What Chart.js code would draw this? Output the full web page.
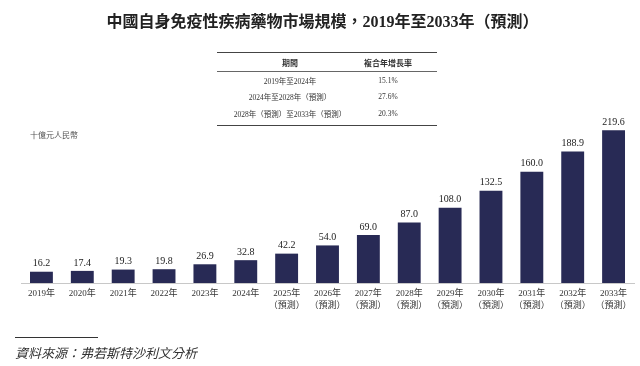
<!DOCTYPE html>
<html>
<head>
<meta charset="utf-8">
<script src="https://cdn.jsdelivr.net/npm/chart.js@4/dist/chart.umd.min.js"></script>
<style>
  body { margin: 0; width: 640px; height: 366px; background: #fff; position: relative; overflow: hidden; font-family: "Liberation Serif", "Noto Sans CJK TC", serif; color: #222; }
  #wrap { position: absolute; left: 0; top: 0; width: 640px; height: 366px; }
  .title { position: absolute; top: 8px; left: 0; width: 645px; text-align: center; font-size: 16px; font-weight: bold; color: #222; }
  .unit { position: absolute; left: 30px; top: 129px; font-size: 8px; color: #555; }
  table { position: absolute; left: 217px; top: 52px; width: 220px; border-collapse: collapse; font-size: 7.5px; color: #333; border-top: 1.5px solid #444; border-bottom: 1.5px solid #444; }
  th { font-weight: bold; font-size: 8px; height: 18px; border-bottom: 1.2px solid #666; padding: 0; }
  td { text-align: center; height: 16.5px; padding: 0; }
  td.v, th.v { padding-right: 24px; }
  tbody tr:last-child td { padding-bottom: 3px; }
  .src-line { position: absolute; left: 15px; top: 337px; width: 83px; border-top: 1px solid #333; }
  .src { position: absolute; left: 15px; top: 343px; font-size: 13px; font-style: italic; color: #333; }
</style>
</head>
<body>
<div id="wrap"><canvas id="chart" width="640" height="366"></canvas></div>
<div class="title">中國自身免疫性疾病藥物市場規模，2019年至2033年（預測）</div>
<table id="cagr"><thead><tr><th style="width:146px">期間</th><th class="v">複合年增長率</th></tr></thead><tbody></tbody></table>
<div class="unit">十億元人民幣</div>
<div class="src-line"></div>
<div class="src">資料來源：弗若斯特沙利文分析</div>
<script>
const years = ['2019年', '2020年', '2021年', '2022年', '2023年', '2024年', '2025年', '2026年', '2027年', '2028年', '2029年', '2030年', '2031年', '2032年', '2033年'];
const forecastFrom = 6;
const marketSize = [16.2, 17.4, 19.3, 19.8, 26.9, 32.8, 42.2, 54.0, 69.0, 87.0, 108.0, 132.5, 160.0, 188.9, 219.6];
const cagrPeriods = ['2019年至2024年', '2024年至2028年（預測）', '2028年（預測）至2033年（預測）'];
const cagrValues = ['15.1%', '27.6%', '20.3%'];

const tbody = document.querySelector('#cagr tbody');
cagrPeriods.forEach((p, i) => {
  const tr = document.createElement('tr');
  tr.innerHTML = `<td>${p}</td><td class="v">${cagrValues[i]}</td>`;
  tbody.appendChild(tr);
});

const labels = years.map((y, i) => (i >= forecastFrom ? [y, '（預測）'] : y));

const barLabels = {
  id: 'barLabels',
  afterDatasetsDraw(chart) {
    const ctx = chart.ctx;
    const meta = chart.getDatasetMeta(0);
    ctx.save();
    ctx.font = '10px "Liberation Serif", serif';
    ctx.fillStyle = '#222';
    ctx.textAlign = 'center';
    ctx.textBaseline = 'bottom';
    meta.data.forEach((bar, i) => {
      ctx.fillText(marketSize[i].toFixed(1), bar.x, bar.y - 3);
    });
    ctx.restore();
  },
};

new Chart(document.getElementById('chart').getContext('2d'), {
  type: 'bar',
  data: {
    labels,
    datasets: [{
      data: marketSize,
      backgroundColor: '#282a55',
      borderWidth: 0,
      barPercentage: 0.56,
      categoryPercentage: 1,
    }],
  },
  options: {
    responsive: false,
    animation: false,
    layout: { padding: { left: 21, right: 6, top: 116, bottom: 43 } },
    plugins: { legend: { display: false }, tooltip: { enabled: false } },
    scales: {
      x: {
        afterFit(scale) { scale.height = 40; },
        grid: { display: false, drawTicks: false },
        border: { color: '#c8c8c8', width: 1 },
        ticks: {
          color: '#333',
          padding: 5,
          maxRotation: 0,
          autoSkip: false,
          font: { family: '"Liberation Serif", "Noto Sans CJK TC", serif', size: 9, lineHeight: 1.3 },
        },
      },
      y: {
        display: false,
        min: 0,
        max: 240,
      },
    },
  },
  plugins: [barLabels],
});
</script>
</body>
</html>
